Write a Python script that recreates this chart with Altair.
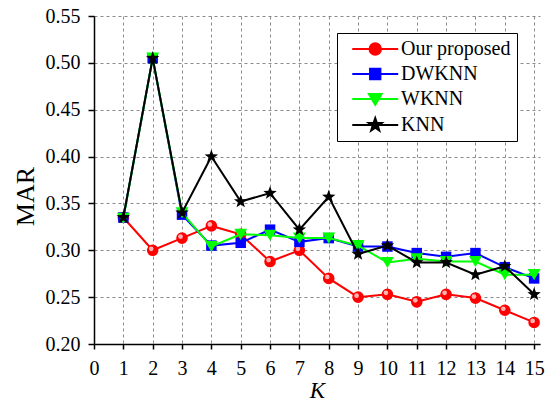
import math
import altair as alt
import pandas as pd

# ---- data ----
K = list(range(1, 16))
series_names = ["Our proposed", "DWKNN", "WKNN", "KNN"]
ours = [0.335, 0.300, 0.313, 0.326, 0.317, 0.288, 0.300, 0.270, 0.250, 0.253, 0.245, 0.253, 0.249, 0.236, 0.223]
dwknn = [0.335, 0.505, 0.338, 0.305, 0.308, 0.322, 0.309, 0.313, 0.304, 0.304, 0.297, 0.293, 0.297, 0.282, 0.270]
wknn = [0.334, 0.505, 0.340, 0.304, 0.317, 0.316, 0.313, 0.313, 0.305, 0.287, 0.291, 0.288, 0.288, 0.274, 0.274]
knn = [0.335, 0.505, 0.340, 0.400, 0.352, 0.361, 0.322, 0.357, 0.296, 0.305, 0.287, 0.287, 0.274, 0.283, 0.253]
x_ticks = list(range(0, 16))
y_ticks = [0.20, 0.25, 0.30, 0.35, 0.40, 0.45, 0.50, 0.55]

values = [ours, dwknn, wknn, knn]
df = pd.DataFrame(
    [{"K": k, "MAR": v, "series": name}
     for name, vals in zip(series_names, values)
     for k, v in zip(K, vals)]
)

colors = ["#ff0000", "#0000ff", "#00ff00", "#000000"]

FONT = "Liberation Serif"


def star_path(cx, R, r):
    pts = []
    for i in range(10):
        th = math.radians(36 * i)
        rho = R if i % 2 == 0 else r
        pts.append((cx + rho * math.sin(th), -rho * math.cos(th)))
    return "M " + " L ".join(f"{x:.3f} {y:.3f}" for x, y in pts) + " Z"


STAR = star_path(0, 1.0, 0.42)
shapes = ["circle", "square", "triangle-down", STAR]
sizes = [135, 110, 165, 200]

# legend symbols: line segment with marker in the middle (custom SVG paths)
LINE = "M -1 0 L 7 0 "
legend_paths = [
    LINE + "M 4 0 A 1 1 0 1 1 2 0 A 1 1 0 1 1 4 0 Z",
    LINE + "M 2.1 -0.9 L 3.9 -0.9 L 3.9 0.9 L 2.1 0.9 Z",
    LINE + "M 1.9 -0.85 L 4.1 -0.85 L 3 1.0 Z",
    LINE + star_path(3, 1.2, 0.48),
]

x_enc = alt.X(
    "K:Q",
    scale=alt.Scale(domain=[0, 15.2], nice=False, zero=False),
    axis=alt.Axis(
        values=x_ticks, format="d", title="K", titleFontStyle="italic",
        titleFontSize=23, titleY=53, titleBaseline="alphabetic",
        tickSize=5, labelPadding=9, labelFlush=False,
    ),
)
y_enc = alt.Y(
    "MAR:Q",
    scale=alt.Scale(domain=[0.2, 0.55], nice=False, zero=False),
    axis=alt.Axis(
        values=y_ticks, format=".2f", title="MAR", titleFontSize=26,
        titleAngle=-90, titleX=-61, titleY=180, titleBaseline="alphabetic",
        titleAlign="center", tickSize=6, labelPadding=8, labelFlush=False,
    ),
)

base = alt.Chart(df)
layers = []
for name, col, shp, sz in zip(series_names, colors, shapes, sizes):
    sub = base.transform_filter(alt.datum.series == name)
    layers.append(sub.mark_line(color=col, strokeWidth=2).encode(x=x_enc, y=y_enc))
    layers.append(
        sub.mark_point(filled=True, shape=shp, size=sz, color=col, opacity=1)
        .encode(x=x_enc, y=y_enc)
    )
    if name == "Our proposed":
        # glossy highlight on the red balls
        layers.append(
            sub.mark_point(filled=True, shape="circle", size=22, color="#ffc8c8", opacity=0.9)
            .encode(x=x_enc, y=y_enc, xOffset=alt.value(-1.5), yOffset=alt.value(-1.5))
        )

leg = alt.Legend(
    title=None, orient="none", legendX=243, legendY=17, direction="vertical",
    fillColor="white", strokeColor="black", padding=6, rowPadding=5,
    labelFont=FONT, labelFontSize=20, labelColor="black", labelOffset=33,
    symbolSize=132, symbolStrokeWidth=2, symbolOffset=5, symbolOpacity=1,
    labelLimit=300,
)
legend_layer = (
    base.mark_point(filled=True, size=132, opacity=0)
    .encode(
        x=x_enc, y=y_enc,
        shape=alt.Shape("series:N", scale=alt.Scale(domain=series_names, range=legend_paths), legend=leg),
        fill=alt.Fill("series:N", scale=alt.Scale(domain=series_names, range=colors), legend=leg),
        stroke=alt.Stroke("series:N", scale=alt.Scale(domain=series_names, range=colors), legend=leg),
    )
)

chart = (
    alt.layer(legend_layer, *layers)
    .properties(
        width=446, height=328,
        padding={"left": 94, "top": 16, "right": 13, "bottom": 59},
        autosize=alt.AutoSizeParams(type="none"),
        background="white",
    )
    .configure(font=FONT)
    .configure_view(stroke=None)
    .configure_axis(
        labelFont=FONT, labelFontSize=20, labelColor="black",
        titleFont=FONT, titleColor="black", titleFontWeight="normal",
        domainColor="black", domainWidth=1.5, tickColor="black", tickWidth=1.5,
        gridColor="#8a8a8a", gridDash=[3, 3], gridWidth=1,
    )
)

chart.save("out.html", embed_options={"renderer": "svg", "actions": False})
